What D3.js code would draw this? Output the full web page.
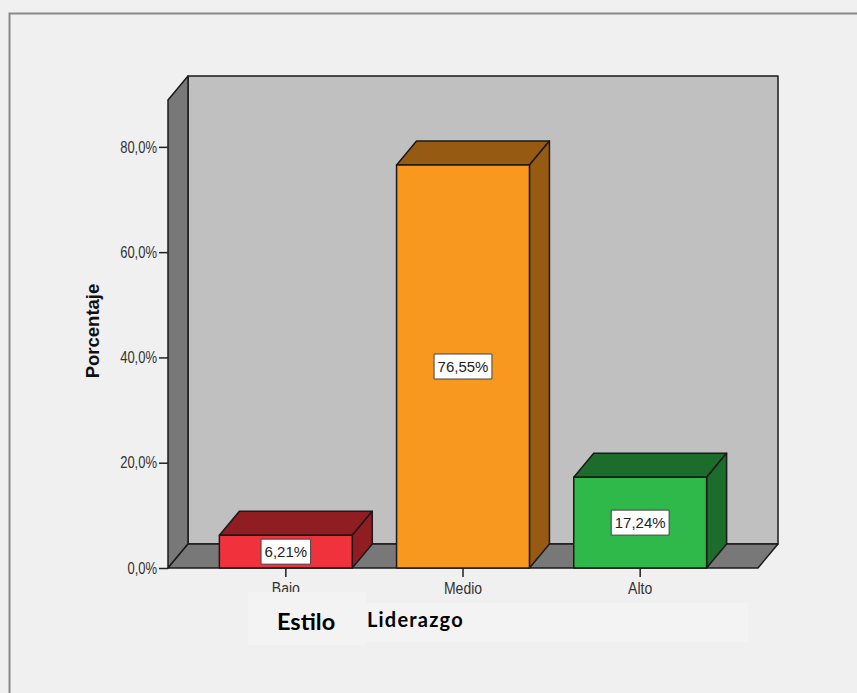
<!DOCTYPE html>
<html>
<head>
<meta charset="utf-8">
<script src="https://cdn.jsdelivr.net/npm/d3@7"></script>
<style>
  body { margin: 0; background: #f0f0f0; }
  svg { display: block; }
</style>
</head>
<body>
<div id="chart"></div>
<script>
// data
const categories = ['Bajo', 'Medio', 'Alto'];
const values = [6.21, 76.55, 17.24];
const yTicks = [0, 20, 40, 60, 80];
const frontColors = ['#f0323c', '#f8981e', '#2fb94a'];
const darkColors = ['#901d22', '#975a13', '#1c6c2c'];

const W = 857, H = 693;
const plotLeft = 168, plotRight = 758, plotTop = 100, plotBottom = 568;
const dx = 20, dy = 24; // 3d depth

const svg = d3.select('#chart').append('svg')
    .attr('width', W)
    .attr('height', H);

svg.append('rect')
    .attr('width', W).attr('height', H)
    .attr('fill', '#f0f0f0');

// outer frame
svg.append('rect')
    .attr('x', 9.5).attr('y', 13.5)
    .attr('width', 860).attr('height', 700)
    .attr('fill', 'none')
    .attr('stroke', '#8a8a8a')
    .attr('stroke-width', 2);

const yScale = d3.scaleLinear().domain([0, 88.9]).range([plotBottom, plotTop]);
const xScale = d3.scaleBand()
    .domain(categories)
    .range([plotLeft, plotRight])
    .paddingInner(0.25)
    .paddingOuter(0.29);

const loc = d3.formatLocale({ decimal: ',', thousands: '.', grouping: [3], currency: ['', ''] });
const fmtTick = d => loc.format('.1f')(d) + '%';
const fmtVal = d => loc.format('.2f')(d) + '%';

const poly = pts => pts.map(p => p.join(',')).join(' ');
const yTop = yScale.range()[1], y0 = yScale(0);

// walls
const walls = svg.append('g').attr('stroke', '#1a1a1a').attr('stroke-width', 1.5).attr('stroke-linejoin', 'round');
walls.append('polygon')
    .attr('points', poly([[plotLeft + dx, yTop - dy], [plotRight + dx, yTop - dy], [plotRight + dx, y0 - dy], [plotLeft + dx, y0 - dy]]))
    .attr('fill', '#c0c0c0');
walls.append('polygon')
    .attr('points', poly([[plotLeft, y0], [plotLeft, yTop], [plotLeft + dx, yTop - dy], [plotLeft + dx, y0 - dy]]))
    .attr('fill', '#787878');
walls.append('polygon')
    .attr('points', poly([[plotLeft, y0], [plotLeft + dx, y0 - dy], [plotRight + dx, y0 - dy], [plotRight, y0]]))
    .attr('fill', '#787878');

// y axis (the source picture is stretched a bit vertically, so the text is too)
const yAxis = svg.append('g')
    .attr('transform', `translate(${plotLeft},0)`)
    .call(d3.axisLeft(yScale).tickValues(yTicks).tickFormat(fmtTick).tickSize(9).tickPadding(2));
yAxis.select('.domain').remove();
yAxis.selectAll('line').attr('stroke', '#222').attr('stroke-width', 1.5);
yAxis.selectAll('text')
    .attr('font-family', 'Liberation Sans, Arial, sans-serif')
    .attr('font-size', 13)
    .attr('fill', '#333')
    .attr('transform', 'scale(1,1.25)');

// x axis
const xAxis = svg.append('g')
    .attr('transform', `translate(0,${y0})`)
    .call(d3.axisBottom(xScale).tickSize(9).tickPadding(4));
xAxis.select('.domain').remove();
xAxis.selectAll('line').attr('stroke', '#222').attr('stroke-width', 1.5);
xAxis.selectAll('text')
    .attr('font-family', 'Liberation Sans, Arial, sans-serif')
    .attr('font-size', 14)
    .attr('fill', '#333')
    .attr('transform', 'scale(1,1.12)');

// bars
const bars = svg.append('g').selectAll('g')
    .data(values)
    .join('g')
    .attr('stroke', '#1a1a1a')
    .attr('stroke-width', 1.5)
    .attr('stroke-linejoin', 'round');

bars.each(function (d, i) {
    const g = d3.select(this);
    const x0 = xScale(categories[i]), x1 = x0 + xScale.bandwidth();
    const yv = yScale(d);
    g.append('polygon')
        .attr('points', poly([[x0, yv], [x0 + dx, yv - dy], [x1 + dx, yv - dy], [x1, yv]]))
        .attr('fill', darkColors[i]);
    g.append('polygon')
        .attr('points', poly([[x1, yv], [x1 + dx, yv - dy], [x1 + dx, y0 - dy], [x1, y0]]))
        .attr('fill', darkColors[i]);
    g.append('rect')
        .attr('x', x0).attr('y', yv)
        .attr('width', x1 - x0).attr('height', y0 - yv)
        .attr('fill', frontColors[i]);

    // value label
    const cx = (x0 + x1) / 2, cy = (yv + y0) / 2;
    const t = g.append('text')
        .attr('x', cx).attr('y', cy + 5.5)
        .attr('text-anchor', 'middle')
        .attr('stroke', 'none')
        .attr('font-family', 'Liberation Sans, Arial, sans-serif')
        .attr('font-size', 15)
        .attr('fill', '#222')
        .text(fmtVal(d));
    const bb = t.node().getBBox();
    g.insert('rect', 'text')
        .attr('x', bb.x - 3.5).attr('y', cy - 12.5)
        .attr('width', bb.width + 7).attr('height', 25)
        .attr('fill', '#fff')
        .attr('stroke', '#444')
        .attr('stroke-width', 1);
});

// y title
svg.append('text')
    .attr('transform', `translate(99,331) rotate(-90)`)
    .attr('text-anchor', 'middle')
    .attr('font-family', 'Liberation Sans, Arial, sans-serif')
    .attr('font-weight', 'bold')
    .attr('font-size', 18.5)
    .attr('fill', '#111')
    .text('Porcentaje');

// pasted x title boxes
svg.append('rect')
    .attr('x', 248).attr('y', 592).attr('width', 118).attr('height', 53)
    .attr('fill', '#f3f3f3');
svg.append('rect')
    .attr('x', 366).attr('y', 603).attr('width', 382).attr('height', 39)
    .attr('fill', '#f3f3f3');

svg.append('text')
    .attr('x', 277).attr('y', 630)
    .attr('font-family', 'Lato, Open Sans, sans-serif')
    .attr('font-weight', 'bold')
    .attr('font-size', 23.5)
    .attr('fill', '#000')
    .text('Estilo');
svg.append('text')
    .attr('x', 367).attr('y', 627)
    .attr('font-family', 'Lato, Open Sans, sans-serif')
    .attr('font-weight', 'bold')
    .attr('font-size', 20)
    .attr('letter-spacing', 1.2)
    .attr('fill', '#000')
    .text('Liderazgo');
</script>
</body>
</html>
